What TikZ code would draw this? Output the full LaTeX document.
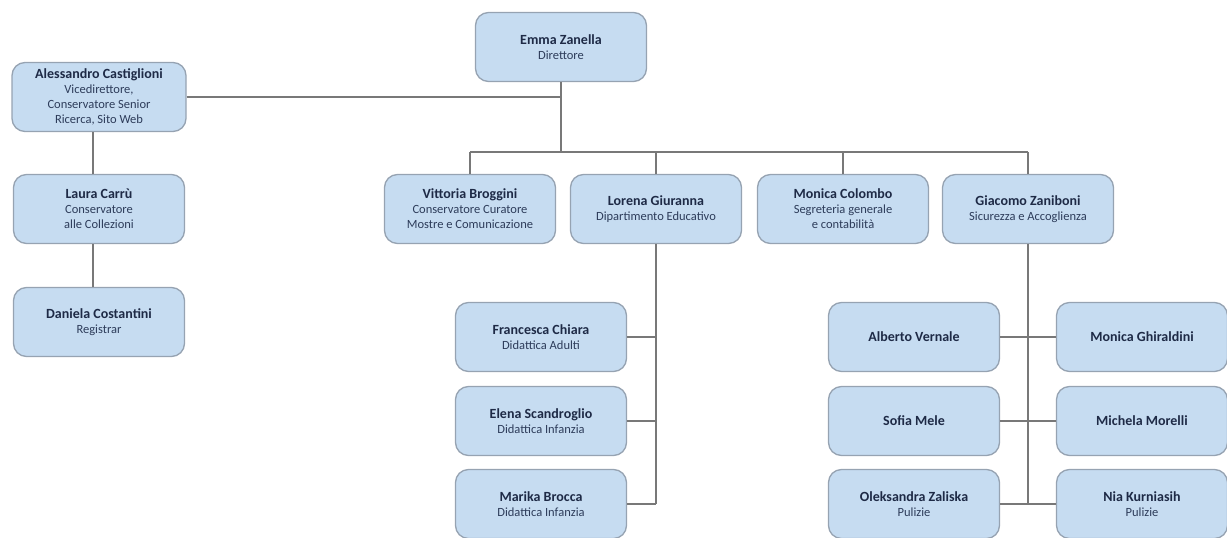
\documentclass[tikz,border=0pt]{standalone}
\usepackage{fontspec}
\setmainfont{Carlito}
\begin{document}
\definecolor{boxfill}{RGB}{198,220,241}
\definecolor{boxline}{RGB}{150,163,178}
\definecolor{wire}{RGB}{120,120,120}
\definecolor{nametext}{RGB}{30,42,70}
\definecolor{roletext}{RGB}{45,60,90}
\newcommand{\pname}[1]{{\bfseries\fontsize{14}{17}\selectfont\color{nametext}#1}}
\begin{tikzpicture}[x=1pt,y=-1pt,
  person/.style={draw=boxline, line width=1.3pt, fill=boxfill, rounded corners=13pt,
    minimum width=171pt, minimum height=69pt, align=center, inner sep=2pt,
    text=roletext, font=\fontsize{12.5}{15}\selectfont},
  wire/.style={draw=wire, line width=1.5pt}]
\useasboundingbox (0,0) rectangle (1227,538);

% top level
\node[person] (emma) at (561,47) {\pname{Emma Zanella}\\Direttore};
\node[person, minimum width=174pt] (alex) at (99,97) {\pname{Alessandro Castiglioni}\\Vicedirettore,\\Conservatore Senior\\Ricerca, Sito Web};
\node[person] (laura) at (99,209) {\pname{Laura Carrù}\\Conservatore\\alle Collezioni};
\node[person] (daniela) at (99,322) {\pname{Daniela Costantini}\\Registrar};

% department heads
\node[person] (vittoria) at (470,209) {\pname{Vittoria Broggini}\\Conservatore Curatore\\Mostre e Comunicazione};
\node[person] (lorena) at (656,209) {\pname{Lorena Giuranna}\\Dipartimento Educativo};
\node[person] (monica) at (843,209) {\pname{Monica Colombo}\\Segreteria generale\\e contabilità};
\node[person] (giacomo) at (1028,209) {\pname{Giacomo Zaniboni}\\Sicurezza e Accoglienza};

% education staff
\node[person] (francesca) at (541,337) {\pname{Francesca Chiara}\\Didattica Adulti};
\node[person] (elena) at (541,421) {\pname{Elena Scandroglio}\\Didattica Infanzia};
\node[person] (marika) at (541,504) {\pname{Marika Brocca}\\Didattica Infanzia};

% security and reception staff
\node[person] (alberto) at (914,337) {\pname{Alberto Vernale}};
\node[person] (ghiraldini) at (1142,337) {\pname{Monica Ghiraldini}};
\node[person] (sofia) at (914,421) {\pname{Sofia Mele}};
\node[person] (michela) at (1142,421) {\pname{Michela Morelli}};
\node[person] (oleksandra) at (914,504) {\pname{Oleksandra Zaliska}\\Pulizie};
\node[person] (nia) at (1142,504) {\pname{Nia Kurniasih}\\Pulizie};

% connectors
\coordinate (bus) at (561,152);
\path[wire] (alex.east) -- (alex.east -| emma.south);
\path[wire] (emma.south) -- (bus);
\path[wire] (bus -| vittoria.north) -- (bus -| giacomo.north);
\foreach \n in {vittoria,lorena,monica,giacomo}
  \path[wire] (bus -| \n.north) -- (\n.north);

\path[wire] ([xshift=-6pt]alex.south) -- ([xshift=-6pt]laura.north);
\path[wire] ([xshift=-6pt]laura.south) -- ([xshift=-6pt]daniela.north);

\path[wire] (lorena.south) -- (lorena.south |- marika.east);
\foreach \n in {francesca,elena,marika}
  \path[wire] (\n.east) -- (\n.east -| lorena.south);

\path[wire] (giacomo.south) -- (giacomo.south |- oleksandra.east);
\path[wire] (alberto.east) -- (ghiraldini.west);
\path[wire] (sofia.east) -- (michela.west);
\path[wire] (oleksandra.east) -- (nia.west);
\end{tikzpicture}
\end{document}
